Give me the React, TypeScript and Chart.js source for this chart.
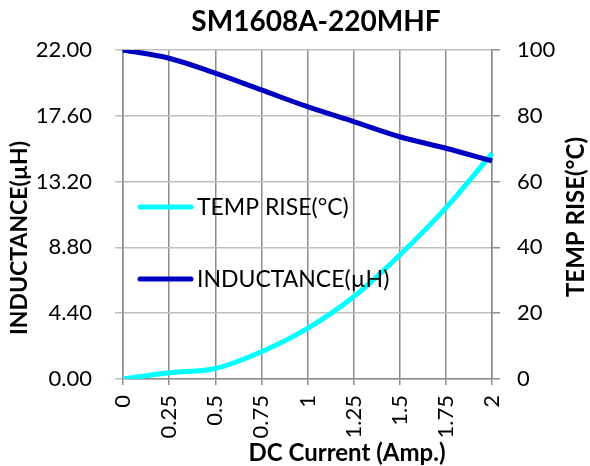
import { useEffect, useRef } from 'react';
import { Chart, registerables } from 'chart.js';

Chart.register(...registerables);

const chartTitle = 'SM1608A-220MHF';
const xAxisTitle = 'DC Current (Amp.)';
const leftAxisTitle = 'INDUCTANCE(µH)';
const rightAxisTitle = 'TEMP RISE(°C)';

const inductanceLabel = 'INDUCTANCE(µH)';
const tempLabel = 'TEMP RISE(°C)';

const currents = ['0', '0.25', '0.5', '0.75', '1', '1.25', '1.5', '1.75', '2'];
const inductance = [22.0, 21.45, 20.45, 19.33, 18.21, 17.21, 16.2, 15.43, 14.58];
const tempRise = [0, 1.9, 3.2, 8.3, 15.4, 25.0, 37.7, 52.0, 68.6];

const inductanceTicks = [0, 4.4, 8.8, 13.2, 17.6, 22];
const tempTicks = [0, 20, 40, 60, 80, 100];

const decorPlugin = {
  id: 'decor',
  afterDraw(chart: any) {
    const ctx = chart.ctx as CanvasRenderingContext2D;
    ctx.save();
    ctx.fillStyle = '#000';
    ctx.textAlign = 'center';
    ctx.textBaseline = 'middle';
    ctx.font = 'bold 28px Lato';
    ctx.fillText(chartTitle, 316, 22);
    ctx.font = 'bold 24px Lato';
    ctx.fillText(xAxisTitle, 347, 453);
    ctx.save();
    ctx.font = 'bold 23px Lato';
    ctx.translate(20, 238);
    ctx.rotate(-Math.PI / 2);
    ctx.fillText(leftAxisTitle, 0, 0);
    ctx.restore();
    ctx.save();
    ctx.font = 'bold 24px Lato';
    ctx.translate(576, 217);
    ctx.rotate(-Math.PI / 2);
    ctx.fillText(rightAxisTitle, 0, 0);
    ctx.restore();

    // legend inside plot area: temp first, then inductance
    const order = [1, 0];
    order.forEach((di, i) => {
      const ds = chart.data.datasets[di];
      const y = 207 + i * 72;
      ctx.strokeStyle = ds.borderColor;
      ctx.lineWidth = 5;
      ctx.lineCap = 'round';
      ctx.beginPath();
      ctx.moveTo(140, y);
      ctx.lineTo(191, y);
      ctx.stroke();
      ctx.font = '23px Lato';
      ctx.textAlign = 'left';
      ctx.fillStyle = '#000';
      ctx.fillText(ds.label, 197, y + 1);
    });
    ctx.restore();
  },
};

export default function App() {
  const canvasRef = useRef<HTMLCanvasElement | null>(null);

  useEffect(() => {
    let chart: Chart | null = null;
    let cancelled = false;
    const make = () => {
      if (cancelled || !canvasRef.current) return;
      Chart.defaults.font.family = 'Lato';
      Chart.defaults.font.size = 22;
      Chart.defaults.color = '#000';
      chart = new Chart(canvasRef.current, {
        type: 'line',
        data: {
          labels: currents,
          datasets: [
            {
              label: inductanceLabel,
              data: inductance,
              borderColor: '#0000c0',
              backgroundColor: '#0000c0',
              borderWidth: 5,
              pointRadius: 0,
              tension: 0.35,
              yAxisID: 'y',
            },
            {
              label: tempLabel,
              data: tempRise,
              borderColor: '#00ffff',
              backgroundColor: '#00ffff',
              borderWidth: 5,
              pointRadius: 0,
              tension: 0.35,
              yAxisID: 'y1',
            },
          ],
        },
        options: {
          responsive: false,
          animation: false,
          layout: { padding: { top: 50, left: 0, right: 0, bottom: 0 } },
          plugins: {
            legend: { display: false },
            title: { display: false },
            tooltip: { enabled: false },
          },
          scales: {
            x: {
              type: 'category',
              offset: false,
              grid: { color: '#8c8c8c', lineWidth: 1.5, tickLength: 6 },
              border: { color: '#8c8c8c', width: 1.5 },
              ticks: { autoSkip: false, maxRotation: 90, minRotation: 90, padding: 10 },
              afterFit: (s: any) => {
                s.height = 87;
              },
            },
            y: {
              position: 'left',
              min: 0,
              max: 22,
              grid: { color: '#bfbfbf', lineWidth: 1.5, tickLength: 8 },
              border: { color: '#8c8c8c', width: 1.5 },
              ticks: { padding: 23, callback: (v: any) => Number(v).toFixed(2) },
              afterBuildTicks: (s: any) => {
                s.ticks = inductanceTicks.map((value) => ({ value }));
              },
              afterFit: (s: any) => {
                s.width = 123;
              },
            },
            y1: {
              position: 'right',
              min: 0,
              max: 100,
              grid: { drawOnChartArea: false, color: '#8c8c8c', lineWidth: 1.5, tickLength: 8 },
              border: { color: '#8c8c8c', width: 1.5 },
              ticks: { padding: 17 },
              afterBuildTicks: (s: any) => {
                s.ticks = tempTicks.map((value) => ({ value }));
              },
              afterFit: (s: any) => {
                s.width = 98;
              },
            },
          },
        },
        plugins: [decorPlugin],
      });
    };
    const fontsApi = (document as any).fonts;
    if (fontsApi && fontsApi.load) {
      Promise.all([fontsApi.load('22px Lato'), fontsApi.load('bold 22px Lato')])
        .catch(() => null)
        .then(make);
    } else {
      make();
    }
    return () => {
      cancelled = true;
      if (chart) chart.destroy();
    };
  }, []);

  return (
    <div style={{ position: 'absolute', left: 0, top: 0, width: 590, height: 466, background: '#fff' }}>
      <canvas ref={canvasRef} width={590} height={466} />
    </div>
  );
}
